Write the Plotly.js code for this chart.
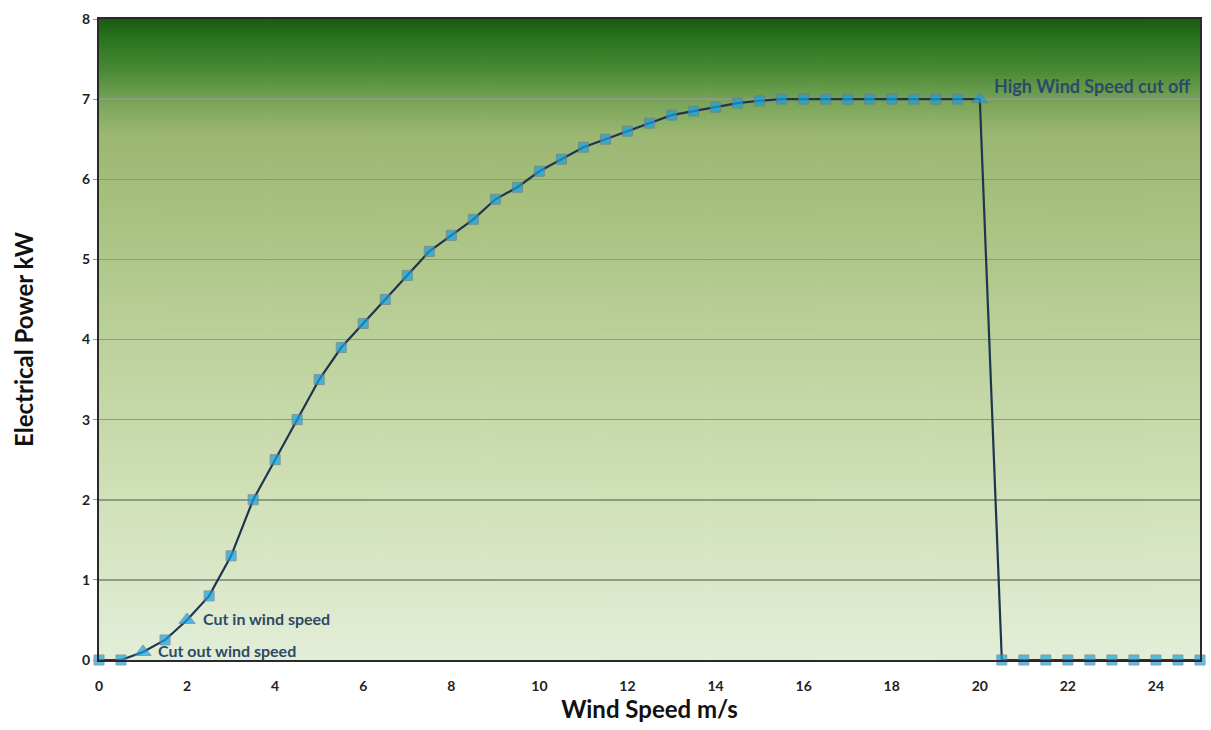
<!DOCTYPE html>
<html>
<head>
<meta charset="utf-8">
<script src="https://cdn.plot.ly/plotly-3.0.1.min.js"></script>
<style>html,body{margin:0;padding:0;background:#fff;}#chart{width:1211px;height:730px;}</style>
</head>
<body>
<div id="chart"></div>
<script>
// Data
var windSpeed = [0,0.5,1,1.5,2,2.5,3,3.5,4,4.5,5,5.5,6,6.5,7,7.5,8,8.5,9,9.5,10,10.5,11,11.5,12,12.5,13,13.5,14,14.5,15,15.5,16,16.5,17,17.5,18,18.5,19,19.5,20,20.5,21,21.5,22,22.5,23,23.5,24,24.5,25];
var power = [0,0,0.1,0.25,0.5,0.8,1.3,2.0,2.5,3.0,3.5,3.9,4.2,4.5,4.8,5.1,5.3,5.5,5.75,5.9,6.1,6.25,6.4,6.5,6.6,6.7,6.8,6.85,6.9,6.95,6.98,7,7,7,7,7,7,7,7,7,7,0,0,0,0,0,0,0,0,0,0];
var eventSpeeds = [1, 2, 20];
var eventPower = [0.1, 0.5, 7];
var eventLabels = ["Cut out wind speed", "Cut in wind speed", "High Wind Speed cut off"];
var xTicks = [0,2,4,6,8,10,12,14,16,18,20,22,24];
var yTicks = [0,1,2,3,4,5,6,7,8];

// gradient background
var cv = document.createElement('canvas');
cv.width = 10; cv.height = 641;
var ctx = cv.getContext('2d');
var g = ctx.createLinearGradient(0,0,0,641);
g.addColorStop(0.0, '#1a5a14');
g.addColorStop(0.03, '#28741d');
g.addColorStop(0.08, '#4a8a37');
g.addColorStop(0.13, '#7aa558');
g.addColorStop(0.18, '#9bb772');
g.addColorStop(0.30, '#a8c17f');
g.addColorStop(0.50, '#bcd19b');
g.addColorStop(0.75, '#d1e1b9');
g.addColorStop(1.0, '#e3eed8');
ctx.fillStyle = g;
ctx.fillRect(0,0,10,641);
var bgURL = cv.toDataURL('image/png');

var symbols = windSpeed.map(function(x){ return eventSpeeds.indexOf(x) >= 0 ? 'triangle-up' : 'square'; });
var sizes = windSpeed.map(function(x){ return eventSpeeds.indexOf(x) >= 0 ? 14 : 10; });

var trace = {
  x: windSpeed, y: power, type: 'scatter', mode: 'lines+markers',
  line: {color: '#1e3550', width: 2.2},
  marker: {symbol: symbols, size: sizes, color: '#14a2e6', line: {color: '#5d7d8e', width: 1}},
  cliponaxis: false, hoverinfo: 'x+y'
};

function annFont(sz){ return {family: 'Lato, "Open Sans", sans-serif', size: sz, color: '#2c4a68', weight: 'bold'}; }
var annotations = [
  {x: eventSpeeds[0], y: eventPower[0], text: eventLabels[0], showarrow: false, xanchor: 'left', yanchor: 'middle', xshift: 13, yshift: 1, font: annFont(16)},
  {x: eventSpeeds[1], y: eventPower[1], text: eventLabels[1], showarrow: false, xanchor: 'left', yanchor: 'middle', xshift: 14, yshift: 1, font: annFont(16)},
  {x: eventSpeeds[2], y: eventPower[2], text: eventLabels[2], showarrow: false, xanchor: 'left', yanchor: 'bottom', xshift: 12, yshift: 0, font: annFont(18)}
];

var tickFont = {family: 'Lato, "Open Sans", sans-serif', size: 14, color: '#222', weight: 'bold'};
var titleFont = {family: 'Lato, "Open Sans", sans-serif', size: 24, color: '#111', weight: 'bold'};

var layout = {
  width: 1211, height: 730,
  margin: {l: 99, r: 11, t: 19, b: 70},
  paper_bgcolor: '#ffffff',
  plot_bgcolor: 'rgba(0,0,0,0)',
  showlegend: false,
  images: [{source: bgURL, xref: 'paper', yref: 'paper', x: 0, y: 1, sizex: 1, sizey: 1, sizing: 'stretch', xanchor: 'left', yanchor: 'top', layer: 'below'}],
  xaxis: {
    range: [0, 25], tickvals: xTicks, ticktext: xTicks.map(String),
    showgrid: false, zeroline: false,
    showline: true, mirror: true, linecolor: '#2a2a2a', linewidth: 2,
    ticks: 'outside', ticklen: 12, tickcolor: 'rgba(0,0,0,0)', tickfont: tickFont,
    title: {text: 'Wind Speed m/s', font: titleFont, standoff: 4}
  },
  yaxis: {
    range: [0, 8], tickvals: yTicks, ticktext: yTicks.map(String),
    showgrid: true, gridcolor: '#8c9c84', gridwidth: 1.5, zeroline: false,
    showline: true, mirror: true, linecolor: '#2a2a2a', linewidth: 2,
    ticks: 'outside', ticklen: 4, tickcolor: '#999', tickfont: tickFont,
    title: {text: 'Electrical Power kW', font: titleFont, standoff: 42}
  },
  annotations: annotations
};

Plotly.newPlot('chart', [trace], layout, {displayModeBar: false, staticPlot: true});
</script>
</body>
</html>
